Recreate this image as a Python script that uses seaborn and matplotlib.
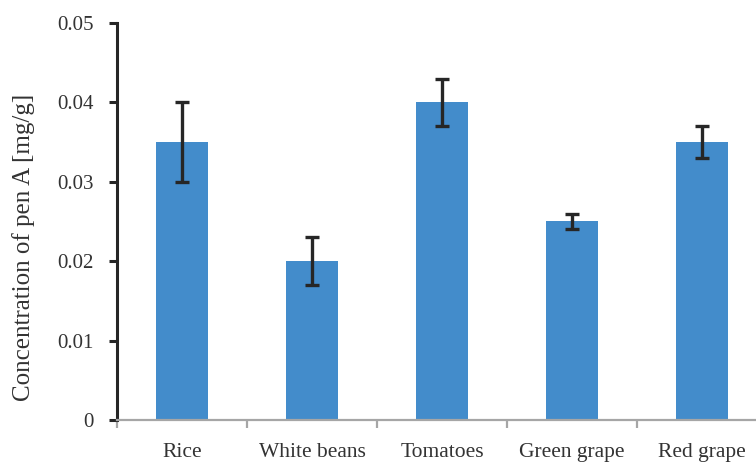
import matplotlib
matplotlib.use("Agg")
import matplotlib.pyplot as plt
import seaborn as sns
import pandas as pd
import numpy as np
from matplotlib.ticker import FixedLocator

# Pen A concentration per food matrix
foods = ["Rice", "White beans", "Tomatoes", "Green grape", "Red grape"]
concentration = [0.035, 0.020, 0.040, 0.025, 0.035]
std_dev = [0.005, 0.003, 0.003, 0.001, 0.002]
y_ticks = [0, 0.01, 0.02, 0.03, 0.04, 0.05]
y_tick_labels = ["0", "0.01", "0.02", "0.03", "0.04", "0.05"]

df = pd.DataFrame({"food": foods, "conc": concentration})

sns.set_theme(style="white")
plt.rcParams["font.family"] = ["Liberation Serif", "DejaVu Serif"]

fig = plt.figure(figsize=(7.56, 4.62), dpi=100)
W, H = 756, 462
ax = fig.add_axes([117 / W, (H - 420) / H, 650 / W, 397 / H])

bar_color = "#438ccb"
sns.barplot(data=df, x="food", y="conc", color=bar_color, saturation=1,
            width=0.4, errorbar=None, ax=ax)
for p in ax.patches:
    p.set_edgecolor("none")

xpos = np.arange(len(foods))
ax.errorbar(xpos, concentration, yerr=std_dev, fmt="none", ecolor="#262626",
            elinewidth=2.4, capsize=5, capthick=2.4, zorder=3)

ax.set_xlim(-0.5, len(foods) - 0.5)
ax.set_ylim(0, 0.05)
ax.set_yticks(y_ticks)
ax.set_yticklabels(y_tick_labels)
ax.set_xlabel("")
ax.set_ylabel("Concentration of pen A [mg/g]", fontsize=18, color="#333333")
ax.yaxis.set_label_coords(-0.126, 0.435)

for s in ["top", "right"]:
    ax.spines[s].set_visible(False)
ax.spines["left"].set_color("#262626")
ax.spines["left"].set_linewidth(2.2)
ax.spines["bottom"].set_color("#a6a6a6")
ax.spines["bottom"].set_linewidth(1.6)

ax.tick_params(axis="y", which="major", left=True, length=6, width=2.2,
               color="#262626", pad=11, labelsize=15, labelcolor="#333333")
ax.tick_params(axis="x", which="major", bottom=False, pad=10.5, labelsize=15.5,
               labelcolor="#333333")
ax.xaxis.set_minor_locator(FixedLocator(np.arange(-0.5, len(foods), 1.0)))
ax.tick_params(axis="x", which="minor", bottom=True, length=6, width=1.6,
               color="#a6a6a6")

fig.savefig("out.png", dpi=100)
